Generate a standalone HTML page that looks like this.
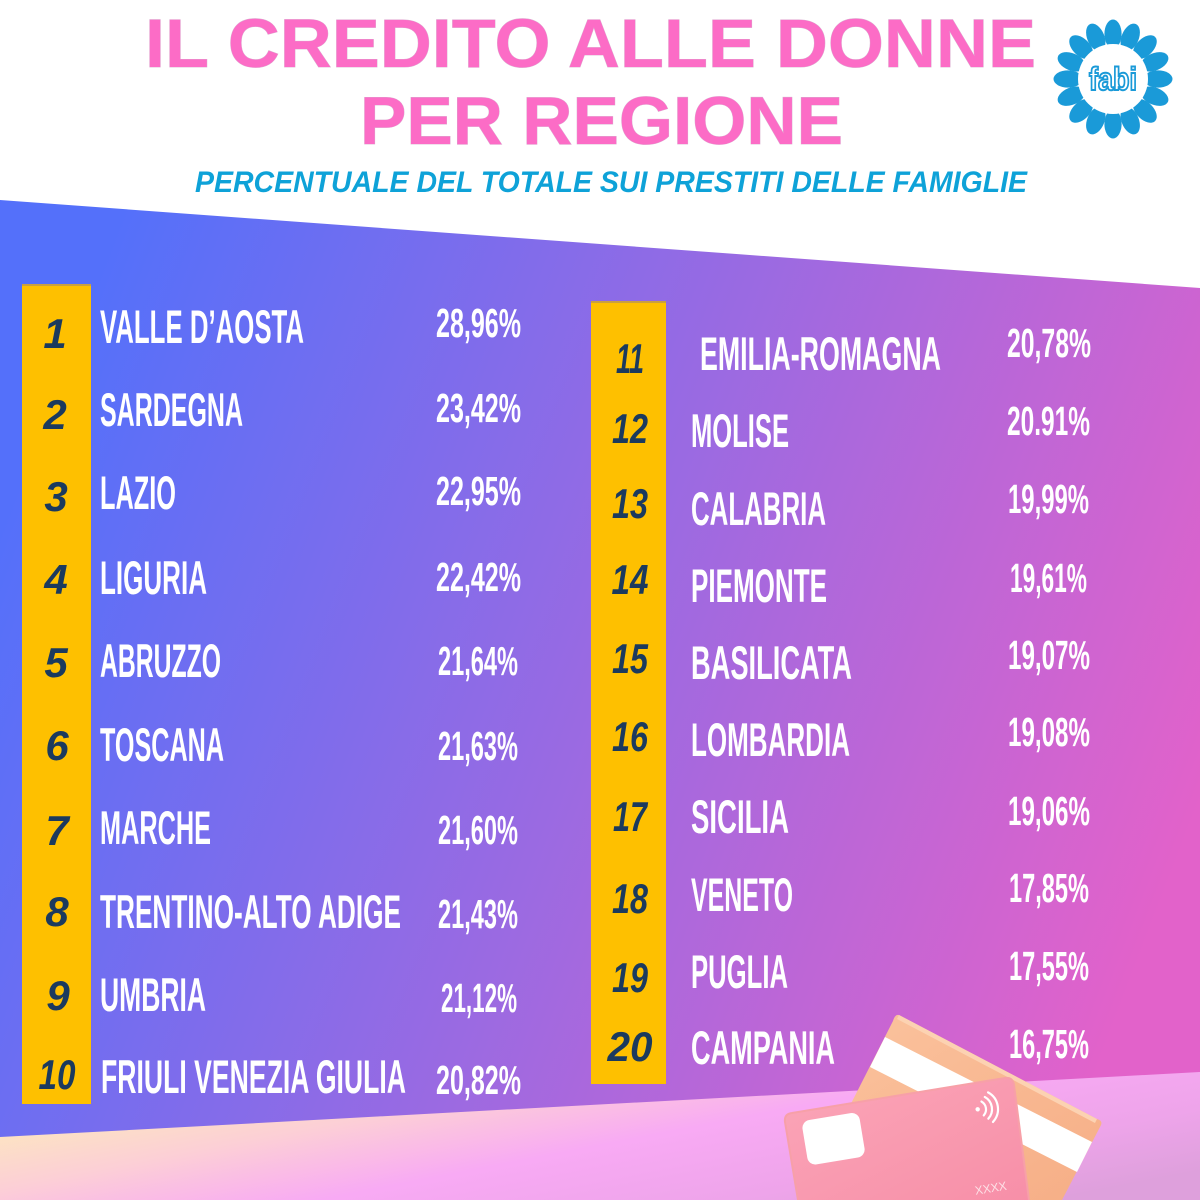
<!DOCTYPE html>
<html>
<head>
<meta charset="utf-8">
<style>
html,body{margin:0;padding:0;background:#fff;width:1200px;height:1200px;overflow:hidden;}
svg{display:block;}
.nm{font-family:"Liberation Sans Narrow","Liberation Sans",sans-serif;font-weight:bold;fill:#fff;font-size:47px;}
.pc{font-family:"Liberation Sans Narrow","Liberation Sans",sans-serif;font-weight:bold;fill:#fff;font-size:41px;}
.nu{font-family:"Liberation Sans",sans-serif;font-weight:bold;font-style:italic;fill:#1b3a5e;font-size:42px;text-anchor:middle;}
</style>
</head>
<body>
<svg width="1200" height="1200" viewBox="0 0 1200 1200" xmlns="http://www.w3.org/2000/svg">
<defs>
<linearGradient id="pur" x1="0" y1="0.35" x2="1" y2="0.65">
<stop offset="0" stop-color="#5470fa"/>
<stop offset="0.5" stop-color="#9a6ae2"/>
<stop offset="1" stop-color="#e262ca"/>
</linearGradient>
<linearGradient id="pas" x1="0" y1="0.2" x2="1" y2="0.8">
<stop offset="0" stop-color="#fdf2b6"/>
<stop offset="0.12" stop-color="#fde6c0"/>
<stop offset="0.32" stop-color="#fccfd6"/>
<stop offset="0.55" stop-color="#f8aaf4"/>
<stop offset="0.8" stop-color="#eea4ea"/>
<stop offset="1" stop-color="#dea0dc"/>
</linearGradient>
<linearGradient id="pink" x1="0" y1="0" x2="1" y2="1">
<stop offset="0" stop-color="#fba6b8"/>
<stop offset="1" stop-color="#f78fa8"/>
</linearGradient>
<linearGradient id="peach" x1="0" y1="0" x2="1" y2="1">
<stop offset="0" stop-color="#fbc49f"/>
<stop offset="1" stop-color="#f6ae86"/>
</linearGradient>
</defs>

<rect width="1200" height="1200" fill="#fff"/>
<!-- pastel bottom -->
<polygon points="0,1130 1200,1060 1200,1200 0,1200" fill="url(#pas)"/>
<!-- purple band -->
<polygon points="0,200 1200,288 1200,1072 0,1137" fill="url(#pur)"/>

<!-- Title -->
<text x="145" y="67" font-family="Liberation Sans, sans-serif" font-weight="bold" font-size="69" fill="#fc6cc6" textLength="891" lengthAdjust="spacingAndGlyphs" stroke="#d9b0d0" stroke-width="0.8" paint-order="stroke">IL CREDITO ALLE DONNE</text>
<text x="360" y="144" font-family="Liberation Sans, sans-serif" font-weight="bold" font-size="68" fill="#fc6cc6" textLength="483" lengthAdjust="spacingAndGlyphs" stroke="#d9b0d0" stroke-width="0.8" paint-order="stroke">PER REGIONE</text>
<text x="195" y="192" font-family="Liberation Sans, sans-serif" font-weight="bold" font-style="italic" font-size="30" fill="#0ea2d8" textLength="832" lengthAdjust="spacingAndGlyphs">PERCENTUALE DEL TOTALE SUI PRESTITI DELLE FAMIGLIE</text>

<!-- Logo -->
<g transform="translate(1113,79)">
<g fill="#1a9ad8">
<ellipse cx="0" cy="-45" rx="8.6" ry="14.5" transform="rotate(0)"/>
<ellipse cx="0" cy="-45" rx="8.6" ry="14.5" transform="rotate(22.5)"/>
<ellipse cx="0" cy="-45" rx="8.6" ry="14.5" transform="rotate(45)"/>
<ellipse cx="0" cy="-45" rx="8.6" ry="14.5" transform="rotate(67.5)"/>
<ellipse cx="0" cy="-45" rx="8.6" ry="14.5" transform="rotate(90)"/>
<ellipse cx="0" cy="-45" rx="8.6" ry="14.5" transform="rotate(112.5)"/>
<ellipse cx="0" cy="-45" rx="8.6" ry="14.5" transform="rotate(135)"/>
<ellipse cx="0" cy="-45" rx="8.6" ry="14.5" transform="rotate(157.5)"/>
<ellipse cx="0" cy="-45" rx="8.6" ry="14.5" transform="rotate(180)"/>
<ellipse cx="0" cy="-45" rx="8.6" ry="14.5" transform="rotate(202.5)"/>
<ellipse cx="0" cy="-45" rx="8.6" ry="14.5" transform="rotate(225)"/>
<ellipse cx="0" cy="-45" rx="8.6" ry="14.5" transform="rotate(247.5)"/>
<ellipse cx="0" cy="-45" rx="8.6" ry="14.5" transform="rotate(270)"/>
<ellipse cx="0" cy="-45" rx="8.6" ry="14.5" transform="rotate(292.5)"/>
<ellipse cx="0" cy="-45" rx="8.6" ry="14.5" transform="rotate(315)"/>
<ellipse cx="0" cy="-45" rx="8.6" ry="14.5" transform="rotate(337.5)"/>
</g>
<circle cx="0" cy="0" r="35" fill="#fff"/>
<text x="0" y="11" text-anchor="middle" font-family="Liberation Sans, sans-serif" font-weight="bold" font-size="32" fill="#fff" stroke="#1a9ad8" stroke-width="2" textLength="48" lengthAdjust="spacingAndGlyphs">fabi</text>
</g>

<!-- Yellow bars -->
<rect x="22" y="284" width="69" height="820" fill="#fec000"/>
<rect x="22" y="284" width="69" height="2" fill="#c9a040"/>
<rect x="591" y="301" width="75" height="783" fill="#fec000"/>
<rect x="591" y="301" width="75" height="2" fill="#c9a040"/>

<!-- Left numbers -->
<text class="nu" x="55" y="348">1</text>
<text class="nu" x="55" y="429">2</text>
<text class="nu" x="56" y="511">3</text>
<text class="nu" x="56" y="594">4</text>
<text class="nu" x="56" y="677">5</text>
<text class="nu" x="57" y="760">6</text>
<text class="nu" x="57" y="845">7</text>
<text class="nu" x="57" y="926">8</text>
<text class="nu" x="58" y="1010">9</text>
<text class="nu" x="57" y="1089" textLength="37" lengthAdjust="spacingAndGlyphs">10</text>

<!-- Left names -->
<text class="nm" x="100" y="343" textLength="204" lengthAdjust="spacingAndGlyphs">VALLE D’AOSTA</text>
<text class="nm" x="100" y="426" textLength="143" lengthAdjust="spacingAndGlyphs">SARDEGNA</text>
<text class="nm" x="100" y="509" textLength="76" lengthAdjust="spacingAndGlyphs">LAZIO</text>
<text class="nm" x="100" y="594" textLength="107" lengthAdjust="spacingAndGlyphs">LIGURIA</text>
<text class="nm" x="100" y="677" textLength="121" lengthAdjust="spacingAndGlyphs">ABRUZZO</text>
<text class="nm" x="100" y="761" textLength="124" lengthAdjust="spacingAndGlyphs">TOSCANA</text>
<text class="nm" x="100" y="844" textLength="111" lengthAdjust="spacingAndGlyphs">MARCHE</text>
<text class="nm" x="100" y="928" textLength="301" lengthAdjust="spacingAndGlyphs">TRENTINO-ALTO ADIGE</text>
<text class="nm" x="100" y="1011" textLength="106" lengthAdjust="spacingAndGlyphs">UMBRIA</text>
<text class="nm" x="101" y="1093" textLength="305" lengthAdjust="spacingAndGlyphs">FRIULI VENEZIA GIULIA</text>

<!-- Left percents -->
<text class="pc" x="436" y="337" textLength="85" lengthAdjust="spacingAndGlyphs">28,96%</text>
<text class="pc" x="436" y="422" textLength="85" lengthAdjust="spacingAndGlyphs">23,42%</text>
<text class="pc" x="436" y="505" textLength="85" lengthAdjust="spacingAndGlyphs">22,95%</text>
<text class="pc" x="436" y="591" textLength="85" lengthAdjust="spacingAndGlyphs">22,42%</text>
<text class="pc" x="438" y="675" textLength="80" lengthAdjust="spacingAndGlyphs">21,64%</text>
<text class="pc" x="438" y="760" textLength="80" lengthAdjust="spacingAndGlyphs">21,63%</text>
<text class="pc" x="438" y="844" textLength="80" lengthAdjust="spacingAndGlyphs">21,60%</text>
<text class="pc" x="438" y="928" textLength="80" lengthAdjust="spacingAndGlyphs">21,43%</text>
<text class="pc" x="441" y="1012" textLength="76" lengthAdjust="spacingAndGlyphs">21,12%</text>
<text class="pc" x="436" y="1094" textLength="85" lengthAdjust="spacingAndGlyphs">20,82%</text>

<!-- Right numbers -->
<text class="nu" x="630" y="373" textLength="28" lengthAdjust="spacingAndGlyphs">11</text>
<text class="nu" x="630" y="443" textLength="36" lengthAdjust="spacingAndGlyphs">12</text>
<text class="nu" x="630" y="518" textLength="36" lengthAdjust="spacingAndGlyphs">13</text>
<text class="nu" x="630" y="594" textLength="37" lengthAdjust="spacingAndGlyphs">14</text>
<text class="nu" x="630" y="673" textLength="36" lengthAdjust="spacingAndGlyphs">15</text>
<text class="nu" x="630" y="751" textLength="36" lengthAdjust="spacingAndGlyphs">16</text>
<text class="nu" x="630" y="831" textLength="34" lengthAdjust="spacingAndGlyphs">17</text>
<text class="nu" x="630" y="913" textLength="36" lengthAdjust="spacingAndGlyphs">18</text>
<text class="nu" x="630" y="992" textLength="36" lengthAdjust="spacingAndGlyphs">19</text>
<text class="nu" x="630" y="1061" textLength="45" lengthAdjust="spacingAndGlyphs">20</text>

<!-- Right names -->
<text class="nm" x="700" y="370" textLength="241" lengthAdjust="spacingAndGlyphs">EMILIA-ROMAGNA</text>
<text class="nm" x="691" y="447" textLength="98" lengthAdjust="spacingAndGlyphs">MOLISE</text>
<text class="nm" x="691" y="525" textLength="135" lengthAdjust="spacingAndGlyphs">CALABRIA</text>
<text class="nm" x="691" y="602" textLength="136" lengthAdjust="spacingAndGlyphs">PIEMONTE</text>
<text class="nm" x="691" y="679" textLength="161" lengthAdjust="spacingAndGlyphs">BASILICATA</text>
<text class="nm" x="691" y="756" textLength="159" lengthAdjust="spacingAndGlyphs">LOMBARDIA</text>
<text class="nm" x="691" y="833" textLength="98" lengthAdjust="spacingAndGlyphs">SICILIA</text>
<text class="nm" x="691" y="911" textLength="102" lengthAdjust="spacingAndGlyphs">VENETO</text>
<text class="nm" x="691" y="988" textLength="97" lengthAdjust="spacingAndGlyphs">PUGLIA</text>
<text class="nm" x="691" y="1064" textLength="144" lengthAdjust="spacingAndGlyphs">CAMPANIA</text>

<!-- Right percents -->
<text class="pc" x="1007" y="357" textLength="84" lengthAdjust="spacingAndGlyphs">20,78%</text>
<text class="pc" x="1007" y="435" textLength="83" lengthAdjust="spacingAndGlyphs">20.91%</text>
<text class="pc" x="1008" y="513" textLength="81" lengthAdjust="spacingAndGlyphs">19,99%</text>
<text class="pc" x="1010" y="592" textLength="77" lengthAdjust="spacingAndGlyphs">19,61%</text>
<text class="pc" x="1008" y="669" textLength="82" lengthAdjust="spacingAndGlyphs">19,07%</text>
<text class="pc" x="1008" y="746" textLength="82" lengthAdjust="spacingAndGlyphs">19,08%</text>
<text class="pc" x="1008" y="825" textLength="82" lengthAdjust="spacingAndGlyphs">19,06%</text>
<text class="pc" x="1009" y="902" textLength="80" lengthAdjust="spacingAndGlyphs">17,85%</text>
<text class="pc" x="1009" y="980" textLength="80" lengthAdjust="spacingAndGlyphs">17,55%</text>
<text class="pc" x="1009" y="1058" textLength="80" lengthAdjust="spacingAndGlyphs">16,75%</text>

<!-- Credit cards (clipped to frame) -->
<path d="M899,1015 Q895,1014 893,1021 L802,1200 L1062,1200 L1100,1127 Q1104,1121 1097,1119 Z" fill="url(#peach)"/>
<path d="M899,1015 L1097,1119 L1095,1123 L897,1019 Z" fill="#fcd2b2"/>
<polygon points="885,1037 1092,1142 1077,1172 870,1067" fill="#ffffff"/>

<path d="M798,1200 L785,1122 Q784,1114 792,1113 L1005,1078 Q1013,1077 1014,1085 L1029,1200 Z" fill="url(#pink)"/>
<path d="M798,1200 L785,1122 Q784,1114 792,1113 L1005,1078 Q1013,1077 1014,1085 L1029,1200" fill="none" stroke="#f7a0a8" stroke-width="2"/>
<g transform="translate(784,1115) rotate(-9.4)">
<rect x="16" y="9" width="58" height="45" rx="8" fill="#ffffff"/>
<circle cx="192" cy="26" r="2.2" fill="#fff"/>
<path d="M197 19 A9 9 0 0 1 197 33" fill="none" stroke="#fff" stroke-width="2.2" stroke-linecap="round"/>
<path d="M201 15 A14 14 0 0 1 201 37" fill="none" stroke="#fff" stroke-width="2.2" stroke-linecap="round"/>
<path d="M205 11 A19 19 0 0 1 205 41" fill="none" stroke="#fff" stroke-width="2.2" stroke-linecap="round"/>
<text x="176" y="110" font-family="Liberation Sans, sans-serif" font-size="12" fill="#fde0e6">XXXX</text>
</g>
</svg>
</body>
</html>
